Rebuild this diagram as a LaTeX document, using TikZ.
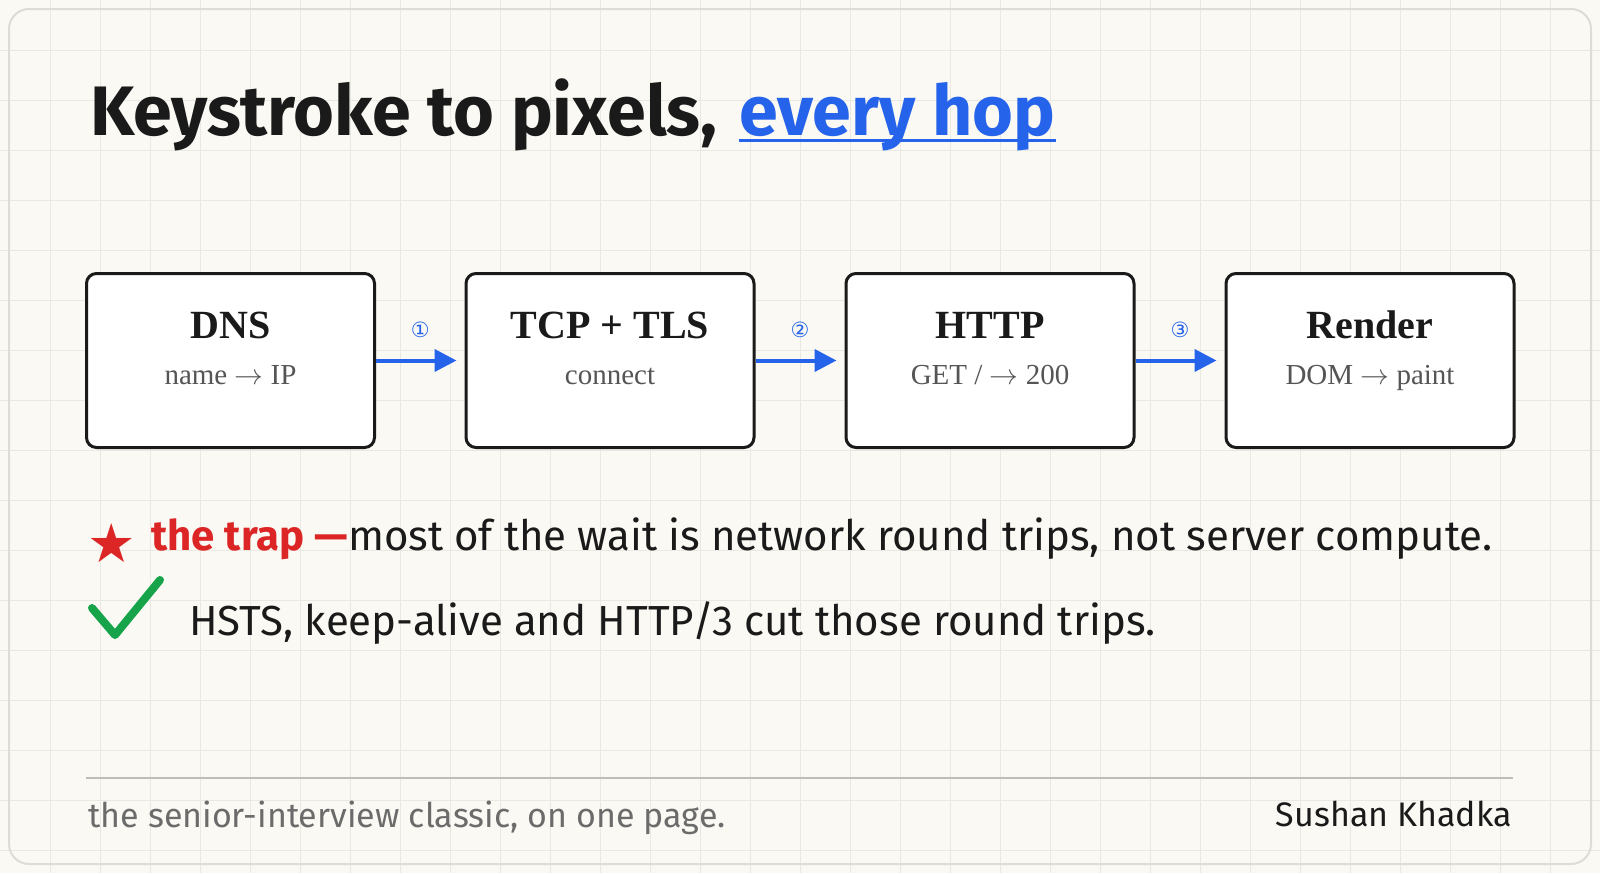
\documentclass[tikz,border=0pt]{standalone}
\usepackage{fontspec}
\setmainfont{Liberation Serif}
\newfontfamily\handfont{Fira Sans}
\newfontfamily\symfont{DejaVu Sans}
\usepackage{tikz}
\usetikzlibrary{calc, positioning, arrows.meta}

\definecolor{paper}{HTML}{FAF9F3}
\definecolor{gridline}{HTML}{E9E8E2}
\definecolor{framegray}{HTML}{DEDCD6}
\definecolor{ink}{HTML}{1A1A1A}
\definecolor{subgray}{HTML}{555555}
\definecolor{hopblue}{HTML}{2563EB}
\definecolor{trapred}{HTML}{DC2626}
\definecolor{checkgreen}{HTML}{16A34A}
\definecolor{rulegray}{HTML}{BDBDBA}
\definecolor{footgray}{HTML}{6B6B6B}

\begin{document}
\begin{tikzpicture}[x=0.5pt, y=-0.5pt,
    box/.style={draw=ink, line width=1.5pt, rounded corners=5pt, fill=white,
      minimum width=144pt, minimum height=87pt},
    boxtitle/.style={font=\fontsize{20}{24}\selectfont\bfseries, text=ink, anchor=base, inner sep=0pt},
    boxsub/.style={font=\fontsize{14.5}{17}\selectfont, text=subgray, anchor=base, inner sep=0pt},
    hop/.style={draw=hopblue, line width=2pt, -{Triangle[length=11pt, width=11pt]}, shorten >=4pt},
    hoplabel/.style={font=\symfont\fontsize{10.5}{12}\selectfont, text=hopblue, inner sep=0pt},
    hand/.style={font=\handfont\fontsize{21}{25}\selectfont, text=ink, anchor=base west, inner sep=0pt}]
        \pgfmathsetmacro{\by}{360.5}
        \pgfmathsetmacro{\lift}{30.5}
        \useasboundingbox (0,0) rectangle (1600,873);
        % paper and grid
        \fill[paper] (0,0) rectangle (1600,873);
        \foreach \gx in {50,100,...,1550} \draw[gridline, line width=0.5pt] (\gx,0) -- (\gx,873);
        \foreach \gy in {50,100,...,850} \draw[gridline, line width=0.5pt] (0,\gy) -- (1600,\gy);
        \draw[framegray, line width=1pt, rounded corners=10pt] (9,9) rectangle (1591,864);
        % title
        \node[hand, font=\handfont\fontsize{35}{40}\selectfont\bfseries] (title) at (90,135) {Keystroke to pixels,};
        \node[hand, font=\handfont\fontsize{35}{40}\selectfont\bfseries, text=hopblue] (titlehop) at (739,135) {every hop};
        \draw[hopblue, line width=1.5pt] ($(titlehop.base west)+(0,5)$) -- ($(titlehop.base east)+(0,5)$);
        % the four hops
        \node[box] (dns) at (230.5,\by) {};
        \node[box] (tcp) at (610,\by) {};
        \node[box] (http) at (990,\by) {};
        \node[box] (render) at (1370,\by) {};
        \node[boxtitle] (dnsT) at (230.5,338) {DNS};
        \node[boxsub] (dnsS) at (230.5,384) {name $\rightarrow$ IP};
        \node[boxtitle] (tcpT) at (610,338) {TCP + TLS};
        \node[boxsub] (tcpS) at (610,384) {connect};
        \node[boxtitle] (httpT) at (990,338) {HTTP};
        \node[boxsub] (httpS) at (990,384) {GET / $\rightarrow$ 200};
        \node[boxtitle] (renderT) at (1370,338) {Render};
        \node[boxsub] (renderS) at (1370,384) {DOM $\rightarrow$ paint};
        \draw[hop] (dns) -- (tcp);
        \draw[hop] (tcp) -- (http);
        \draw[hop] (http) -- (render);
        \node[hoplabel] (hop1) at ($(dns.east)!0.5!(tcp.west)+(0,-\lift)$) {①};
        \node[hoplabel] (hop2) at ($(tcp.east)!0.5!(http.west)+(0,-\lift)$) {②};
        \node[hoplabel] (hop3) at ($(http.east)!0.5!(render.west)+(0,-\lift)$) {③};
        % the trap and the fix
        \node[font=\symfont\fontsize{27}{30}\selectfont, text=trapred, inner sep=0pt] (star) at (112,543) {★};
        \node[hand] (trap) at (151,550) {{\color{trapred}\bfseries the trap —}most of the wait is network round trips, not server compute.};
        \draw[checkgreen, line width=4pt, line cap=round, line join=round] (92,608) -- (115,635) -- (160,580);
        \node[hand] (fix) at (189,635) {HSTS, keep-alive and HTTP/3 cut those round trips.};
        % footer
        \coordinate (ruleL) at (86,778);
        \coordinate (ruleR) at (1513,778);
        \draw[rulegray, line width=1.25pt] (ruleL) -- (ruleR);
        \node[hand, font=\handfont\fontsize{17}{20}\selectfont, text=footgray] (tagline) at (88,827) {the senior-interview classic, on one page.};
        \node[hand, font=\handfont\fontsize{17}{20}\selectfont, anchor=base east] (author) at (1512,826) {Sushan Khadka};
    \end{tikzpicture}
\end{document}
